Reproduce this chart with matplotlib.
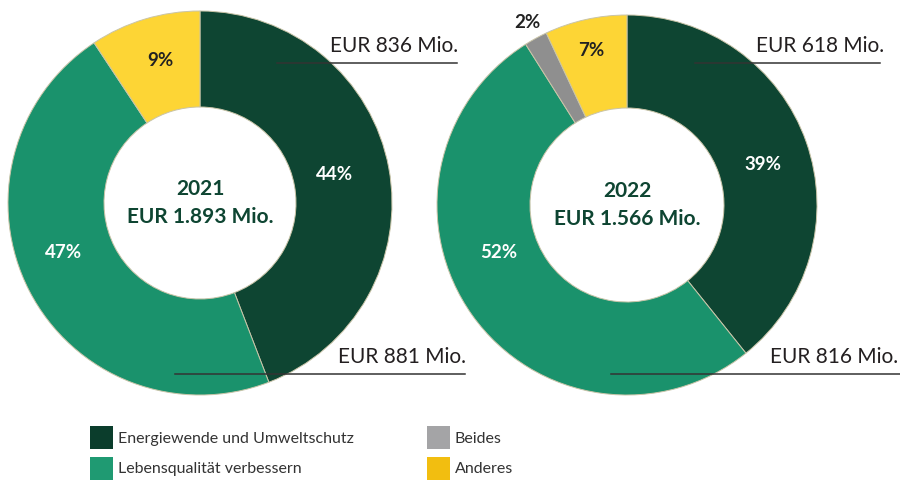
import numpy as np
import matplotlib.pyplot as plt
from matplotlib.patches import Patch

categories = ['Energiewende und Umweltschutz', 'Lebensqualität verbessern', 'Beides', 'Anderes']
years = ['2021', '2022']
totals = ['EUR 1.893 Mio.', 'EUR 1.566 Mio.']
values_2021 = [836, 881, 0, 176]
values_2022 = [618, 816, 31, 110]
pct_2021 = ['44%', '47%', '', '9%']
pct_2022 = ['39%', '52%', '2%', '7%']
amounts_2021 = ['EUR 836 Mio.', 'EUR 881 Mio.']
amounts_2022 = ['EUR 618 Mio.', 'EUR 816 Mio.']

pie_colors = ['#0e4532', '#1a926c', '#8f8f8f', '#fdd535']
legend_colors = ['#0b3d2c', '#1f9a72', '#a4a4a6', '#f2be10']
pct_colors = ['white', 'white', '#222222', '#222222']
center_color = '#0e4532'
text_color = '#231f20'

W, H = 900, 483
plt.rcParams['font.family'] = ['Lato', 'DejaVu Sans']

fig = plt.figure(figsize=(W / 100, H / 100), dpi=100)
ax = fig.add_axes([0, 0, 1, 1])


def py(y):
    # pixel row (from top) to data y
    return H - y


# layout per chart: center, outer radius, hole radius, label offsets, annotation lines
charts = [
    dict(vals=values_2021, pcts=pct_2021, amounts=amounts_2021, year=years[0], total=totals[0],
         c=(200, 203), r=192, hole=96,
         lab=[(135, -29), (-136, 50), (0, 0), (-40, -142)],
         top=(277, 457, 63, 458), bot=(175, 465, 374, 466)),
    dict(vals=values_2022, pcts=pct_2022, amounts=amounts_2022, year=years[1], total=totals[1],
         c=(627, 205), r=190, hole=97,
         lab=[(136, -41), (-128, 48), (-100, -183), (-36, -155)],
         top=(695, 880, 63, 884), bot=(611, 900, 374, 898)),
]

for ch in charts:
    cx, cy = ch['c']
    ax.pie(ch['vals'], colors=pie_colors, startangle=90, counterclock=False,
           center=(cx, py(cy)), radius=ch['r'],
           wedgeprops=dict(width=ch['r'] - ch['hole'], edgecolor='#c9c4a8', linewidth=0.7))
    for txt, col, (dx, dy) in zip(ch['pcts'], pct_colors, ch['lab']):
        if txt:
            ax.text(cx + dx, py(cy + dy), txt, ha='center', va='center',
                    fontsize=13.5, fontweight='bold', color=col)
    ax.text(cx, py(cy - 14), ch['year'], ha='center', va='center',
            fontsize=15, fontweight='bold', color=center_color)
    ax.text(cx, py(cy + 14), ch['total'], ha='center', va='center',
            fontsize=15, fontweight='bold', color=center_color)
    for (x0, x1, y, xt), amt in zip([ch['top'], ch['bot']], ch['amounts']):
        ax.plot([x0, x1], [py(y), py(y)], color='#333333', lw=1.1, zorder=5)
        ax.text(xt, py(y - 7), amt, ha='right', va='bottom', fontsize=15, color=text_color)

handles = [Patch(facecolor=c, edgecolor='none') for c in legend_colors]
ax.legend(handles, categories, ncol=2, loc='upper left',
          bbox_to_anchor=(90 / W, 1 - 426 / H), bbox_transform=fig.transFigure,
          frameon=False, fontsize=11.5, labelcolor='#333333',
          handlelength=1.44, handleheight=1.83, handletextpad=0.3,
          labelspacing=0.5, columnspacing=4.6, borderpad=0, borderaxespad=0)

ax.set_xlim(0, W)
ax.set_ylim(0, H)
ax.set_aspect('equal')
ax.axis('off')

fig.savefig('out.png', dpi=100)
